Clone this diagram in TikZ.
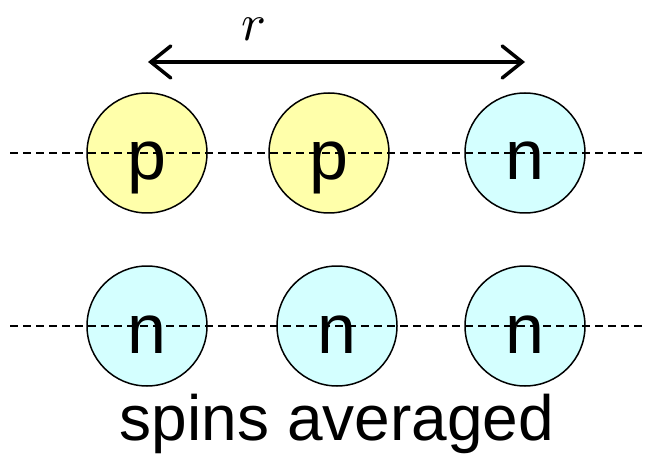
\documentclass[tikz,border=0pt]{standalone}
\usepackage{fontspec}
\setmainfont{Liberation Sans}
\usetikzlibrary{arrows.meta}
\definecolor{protc}{HTML}{FFFFAA}
\definecolor{neutc}{HTML}{D4FFFF}
\begin{document}
\begin{tikzpicture}[x=1pt,y=-1pt,
  nucleon/.style={circle,draw=black,line width=1.5pt,minimum size=120pt,inner sep=0pt},
  prot/.style={nucleon,fill=protc},
  neut/.style={nucleon,fill=neutc},
  lab/.style={font=\fontsize{70}{70}\selectfont,anchor=base},
  axis/.style={dashed,line width=1.2pt,dash pattern=on 8pt off 5pt}]
\useasboundingbox (0,0) rectangle (647,454);
\node[prot] (p1) at (147,153) {};
\node[prot] (p2) at (329,153) {};
\node[neut] (n1) at (525,153) {};
\node[neut] (n2) at (147,326) {};
\node[neut] (n3) at (337,326) {};
\node[neut] (n4) at (525,326) {};
\coordinate (l1a) at (10,153);
\coordinate (l1b) at (645,153);
\coordinate (l2a) at (10,326);
\coordinate (l2b) at (645,326);
\draw[axis] (l1a) -- (l1b);
\draw[axis] (l2a) -- (l2b);
\node[lab] at (147,180) {p};
\node[lab] at (329,180) {p};
\node[lab] at (525,180) {n};
\node[lab] at (147,353) {n};
\node[lab] at (337,353) {n};
\node[lab] at (525,353) {n};
\coordinate (aL) at (148,62);
\coordinate (aR) at (525,62);
\draw[line width=3.5pt,line cap=round,{Straight Barb[length=20pt,width=32pt,line width=3.5pt,line cap=round]}-{Straight Barb[length=20pt,width=32pt,line width=3.5pt,line cap=round]}] (aL) -- (aR);
\node[scale=5.2,inner sep=0pt] (r) at (254,29) {$r$};
\node[anchor=base] (cap) at (337,440) {\fontsize{64}{64}\selectfont spins averaged};
\end{tikzpicture}
\end{document}
